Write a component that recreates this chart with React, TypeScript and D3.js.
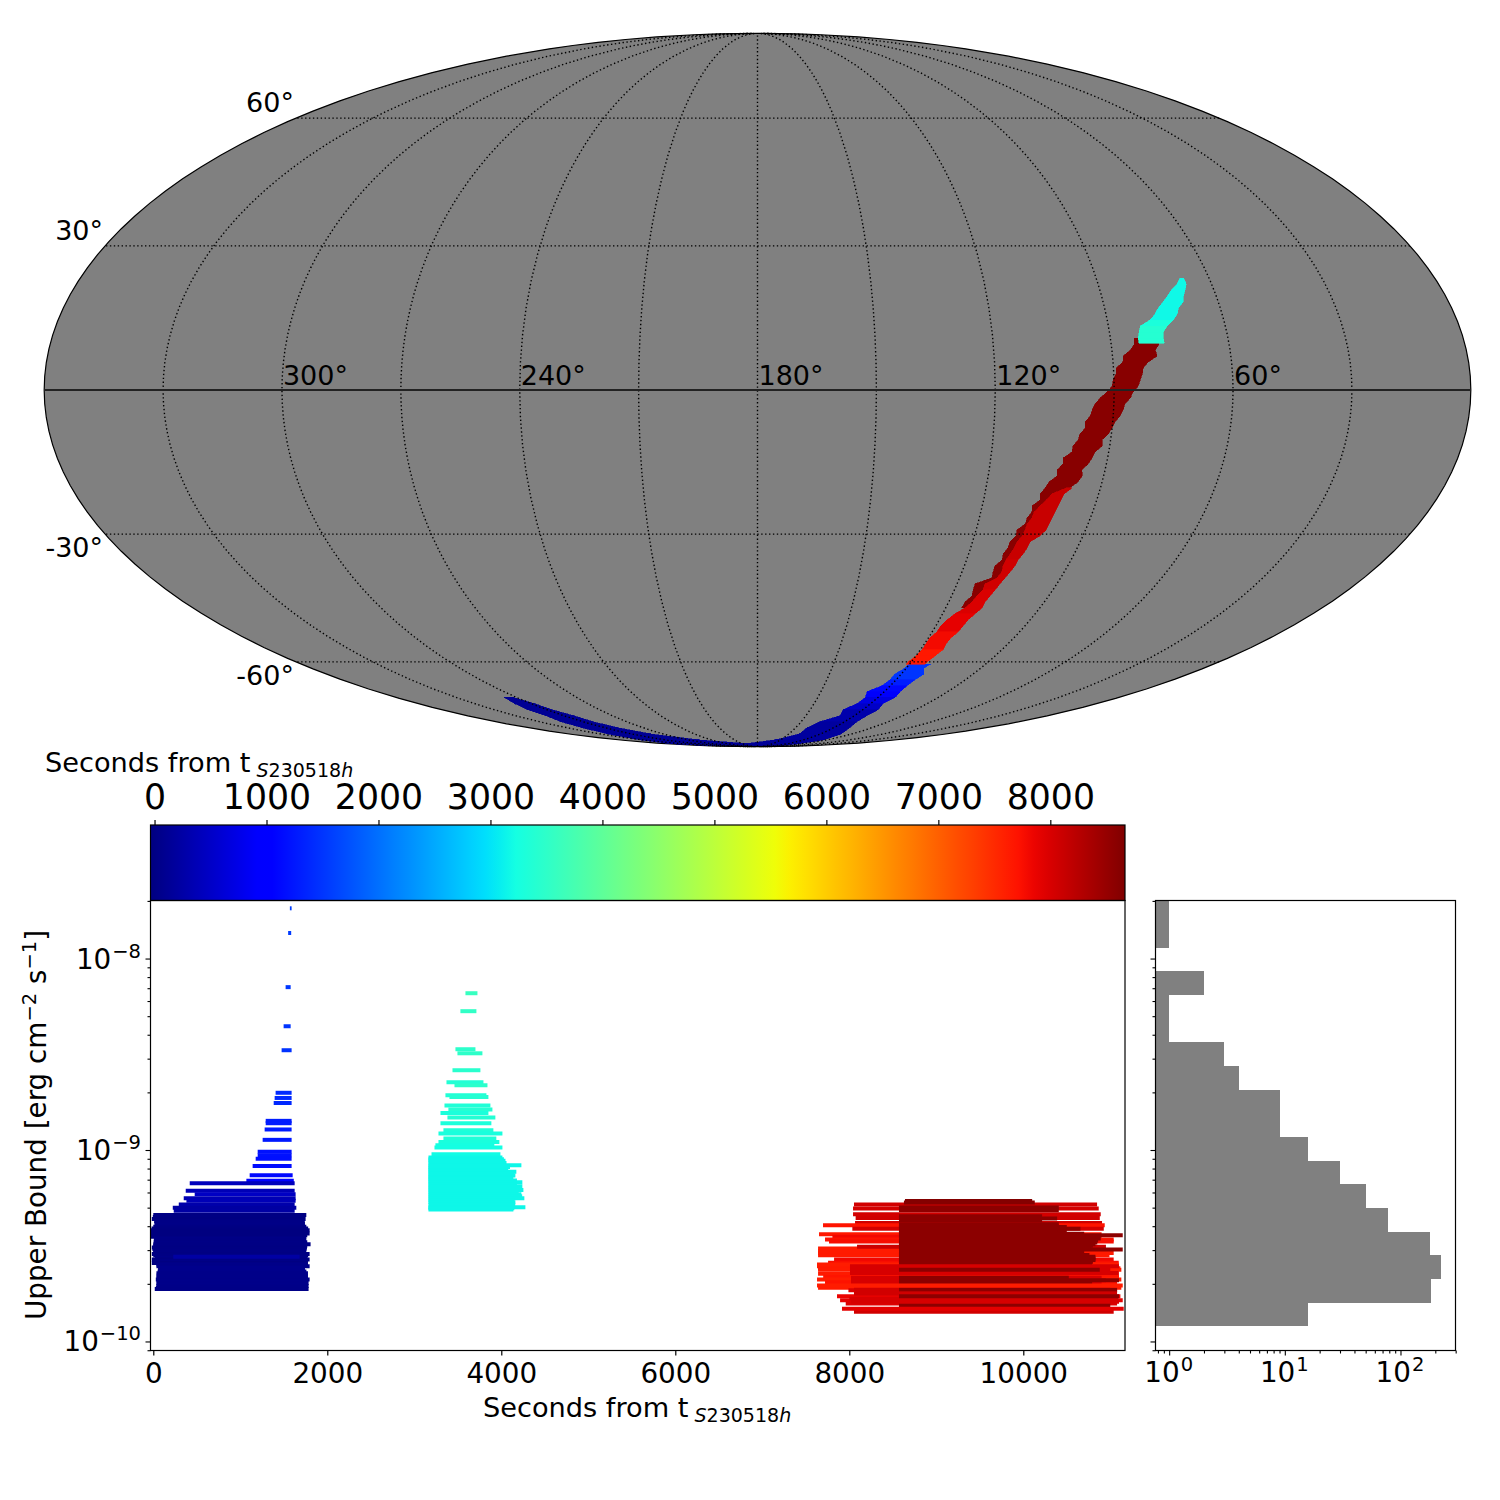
import * as React from "react";
import * as d3 from "d3";

// sky map rows: [lat, lon at left edge, lon at right edge, seconds]. A row joins down to the next row's lat.
type SkyRow = [number, number, number, number];
// bars: [upper bound, start seconds, end seconds]. Colour comes from the start time.
type Bar = [number, number, number];

const skyDarkRed: SkyRow[] = [
  [10.65, 83.9, 78.0, 8600], [9.42, 84.1, 77.8, 8600], [8.18, 85.3, 79.0, 8600], [6.95, 87.3, 78.7, 8600],
  [5.72, 87.5, 81.1, 8600], [4.5, 89.3, 82.5, 8600], [3.27, 89.4, 82.8, 8600], [2.04, 90.2, 83.4, 8600],
  [0.82, 90.5, 83.9, 8600], [-0.41, 91.8, 85.2, 8600], [-1.63, 93.5, 85.9, 8600], [-2.86, 94.7, 87.2, 8600],
  [-4.08, 95.4, 87.6, 8600], [-5.32, 95.8, 88.3, 8600], [-6.55, 97.0, 89.4, 8600], [-7.77, 96.8, 90.0, 8600],
  [-9.0, 98.0, 90.8, 8600], [-10.24, 98.3, 92.2, 8600], [-11.47, 99.4, 91.9, 8600], [-12.71, 99.4, 93.5, 8600],
  [-13.95, 101.4, 94.0, 8600], [-15.19, 101.2, 94.7, 8600], [-16.43, 102.4, 96.0, 8600], [-17.68, 102.1, 95.6, 8600],
  [-18.93, 103.8, 96.3, 8600], [-20.18, 104.5, 98.0, 8600], [-21.44, 105.4, 101.2, 8600], [-22.7, 105.0, 103.2, 8600],
  [-23.97, 106.7, 104.6, 8600], [-25.25, 106.3, 105.7, 8600], [-26.52, 107.1, 105.7, 8600], [-27.81, 107.1, 106.6, 8600],
  [-29.1, 108.8, 106.6, 8600], [-30.39, 108.5, 106.8, 8600], [-31.69, 109.6, 107.6, 8600], [-32.99, 109.5, 107.8, 8600],
  [-34.3, 110.2, 108.2, 8600], [-35.63, 109.8, 108.1, 8600], [-36.96, 111.1, 108.8, 8600], [-38.3, 110.9, 108.3, 8600],
  [-39.65, 110.4, 108.9, 8600], [-41.01, 114.6, 111.6, 8600], [-42.38, 114.3, 111.3, 8600], [-43.76, 113.7, 112.2, 8600],
  [-45.14, 114.9, 112.7, 8600], [-46.55, 114.9, 112.7, 8600],
];

const skyRed: SkyRow[] = [
  [-20.18, 99.0, 97.4, 8120], [-21.44, 102.3, 99.1, 8120], [-22.7, 103.4, 99.5, 8120], [-23.97, 104.6, 99.8, 8120],
  [-25.25, 105.7, 100.1, 8120], [-26.52, 105.8, 100.4, 8120], [-27.81, 106.6, 100.6, 8120], [-29.1, 106.6, 100.8, 8120],
  [-30.39, 106.8, 101.9, 8120], [-31.69, 107.6, 104.0, 8120], [-32.99, 107.8, 104.1, 8120], [-34.3, 108.2, 104.5, 8120],
  [-35.63, 108.7, 105.2, 8060], [-36.96, 108.8, 105.3, 8060], [-38.3, 108.3, 105.9, 8060], [-39.65, 108.9, 106.5, 8060],
  [-41.01, 111.6, 107.1, 8060], [-42.38, 111.3, 107.6, 7990], [-43.76, 112.2, 108.1, 7990], [-45.14, 112.7, 108.6, 7990],
  [-46.55, 113.8, 108.4, 7990], [-47.98, 116.0, 109.5, 7900], [-49.42, 117.4, 110.5, 7900], [-50.87, 118.3, 110.8, 7900],
  [-52.33, 118.4, 111.1, 7790], [-53.8, 119.5, 112.1, 7790], [-55.35, 119.5, 112.3, 7790], [-56.86, 119.4, 111.7, 7660],
  [-58.43, 120.0, 112.8, 7660], [-60.0, 121.3, 113.8, 7660], [-60.6, 121.3, 113.8, 7660],
];

const skyCyan: SkyRow[] = [
  [23.13, 67.8, 66.8, 3180], [21.86, 69.1, 66.7, 3180], [20.6, 71.2, 67.6, 3180], [19.35, 72.8, 68.6, 3180],
  [18.1, 74.4, 69.2, 3180], [16.85, 76.1, 70.9, 3180], [15.6, 77.3, 71.6, 3180], [14.37, 79.0, 73.0, 3300],
  [13.13, 81.8, 74.9, 3400], [11.89, 82.4, 76.2, 3400], [10.65, 82.9, 76.5, 3400], [9.6, 82.9, 76.5, 3400],
];

const skyBlueArm: SkyRow[] = [
  [-60.6, 120.4, 111.7, 1500], [-61.66, 120.6, 113.0, 1500], [-63.3, 122.7, 110.6, 1500], [-64.87, 122.6, 111.8, 1300],
  [-66.56, 123.8, 112.5, 1100], [-68.27, 128.2, 112.5, 900], [-69.98, 126.3, 111.4, 700], [-71.92, 127.2, 113.4, 500],
  [-73.85, 131.3, 111.4, 300], [-75.85, 128.9, 112.2, 300], [-77.96, 137.1, 111.7, 200], [-80.23, 141.2, 107.5, 200],
  [-82.75, 139.9, 100.2, 200], [-85.48, 157.6, 93.5, 150], [-87.6, 204.4, 97.0, 150], [-89.0, 204.4, 97.0, 150],
];

const skyLeftArm: SkyRow[] = [
  [-69.98, 306.0, 301.6, 120], [-71.92, 308.7, 298.1, 120], [-73.85, 310.7, 297.0, 120], [-75.85, 311.0, 293.7, 120],
  [-77.96, 315.0, 293.0, 120], [-80.23, 317.6, 289.4, 120], [-82.75, 323.0, 281.5, 120], [-85.48, 333.0, 256.2, 120],
  [-87.6, 350.8, 194.6, 120], [-89.0, 350.8, 194.6, 120],
];

const blueBars: Bar[] = [
  [1.83e-8, 1570, 1590], [1.36e-8, 1550, 1585], [7.09e-9, 1521, 1579], [4.43e-9, 1498, 1579], [3.32e-9, 1475, 1590],
  [1.99e-9, 1406, 1590], [1.87e-9, 1395, 1590], [1.76e-9, 1384, 1590], [1.42e-9, 1292, 1590], [1.38e-9, 1292, 1590],
  [1.28e-9, 1280, 1590], [1.13e-9, 1257, 1590], [9.8e-10, 1200, 1590], [9.4e-10, 1200, 1590], [9.0e-10, 1177, 1590],
  [8.24e-10, 1142, 1590], [7.39e-10, 1108, 1602], [6.9e-10, 1070, 1615], [6.71e-10, 419, 1625], [6.12e-10, 373, 1625],
  [5.88e-10, 476, 1636], [5.6e-10, 350, 1636], [5.43e-10, 381, 1636], [5.19e-10, 293, 1625], [4.99e-10, 224, 1644],
  [4.81e-10, 235, 1625], [4.57e-10, 0, 1759], [4.47e-10, -5, 1740], [4.36e-10, -17, 1751], [4.25e-10, 10, 1740],
  [4.13e-10, 13, 1743], [4.05e-10, 20, 1740], [3.97e-10, 0, 1759], [3.89e-10, -20, 1780], [3.81e-10, -32, 1797],
  [3.73e-10, -32, 1780], [3.66e-10, -32, 1797], [3.59e-10, -32, 1770], [3.52e-10, -30, 1759], [3.45e-10, 10, 1755],
  [3.38e-10, 6, 1759], [3.3e-10, 5, 1770], [3.22e-10, 0, 1808], [3.16e-10, 0, 1770], [3.1e-10, -17, 1766],
  [3.04e-10, -10, 1760], [2.98e-10, 0, 1759], [2.92e-10, 0, 1755], [2.86e-10, -17, 1797], [2.81e-10, 0, 1780],
  [2.73e-10, 20, 1770], [2.68e-10, -17, 1797], [2.62e-10, 20, 1770], [2.57e-10, -17, 1778], [2.52e-10, 36, 1770],
  [2.47e-10, 36, 1797], [2.43e-10, 60, 1740], [2.38e-10, 55, 1743], [2.32e-10, 50, 1760], [2.27e-10, 36, 1778],
  [2.22e-10, 40, 1770], [2.18e-10, 36, 1778], [2.14e-10, 40, 1770], [2.11e-10, 29, 1797], [2.06e-10, 40, 1770],
  [2.02e-10, 36, 1785], [1.98e-10, 40, 1770], [1.95e-10, 36, 1785], [1.91e-10, 30, 1770], [1.88e-10, 17, 1785],
  [2.77e-10, 230, 1682],
];

const cyanBars: Bar[] = [
  [6.59e-9, 3588, 3726], [5.31e-9, 3530, 3714], [3.36e-9, 3473, 3703], [3.2e-9, 3496, 3783], [2.61e-9, 3439, 3760],
  [2.26e-9, 3370, 3795], [2.18e-9, 3462, 3841], [1.93e-9, 3358, 3829], [1.89e-9, 3404, 3852], [1.71e-9, 3347, 3875],
  [1.63e-9, 3392, 3898], [1.56e-9, 3301, 3852], [1.48e-9, 3381, 3932], [1.38e-9, 3301, 3886], [1.27e-9, 3335, 3909],
  [1.22e-9, 3278, 4013], [1.15e-9, 3335, 3943], [1.1e-9, 3278, 3978], [1.06e-9, 3243, 3920], [1.03e-9, 3232, 4013],
  [9.51e-10, 3198, 3990], [9.14e-10, 3163, 4013], [8.95e-10, 3163, 4030], [8.78e-10, 3163, 4048], [8.55e-10, 3163, 4060],
  [8.33e-10, 3163, 4231], [8.16e-10, 3163, 4100], [8.0e-10, 3163, 4070], [7.84e-10, 3163, 4080], [7.69e-10, 3163, 4173],
  [7.52e-10, 3163, 4150], [7.36e-10, 3163, 4162], [7.21e-10, 3163, 4120], [7.07e-10, 3163, 4139], [6.93e-10, 3163, 4180],
  [6.79e-10, 3163, 4242], [6.63e-10, 3163, 4180], [6.47e-10, 3163, 4242], [6.33e-10, 3163, 4220], [6.19e-10, 3163, 4254],
  [6.03e-10, 3163, 4200], [5.88e-10, 3163, 4231], [5.74e-10, 3163, 4240], [5.6e-10, 3163, 4265], [5.47e-10, 3163, 4150],
  [5.34e-10, 3163, 4162], [5.18e-10, 3163, 4160], [5.03e-10, 3163, 4277], [4.96e-10, 3163, 4150], [4.89e-10, 3163, 4139],
];

const redBars: Bar[] = [
  [5.19e-10, 8054, 10848], [4.95e-10, 8043, 10867], [4.62e-10, 8043, 10890], [4.42e-10, 8073, 10879], [4.16e-10, 8066, 10905],
  [4.05e-10, 7698, 10936], [3.88e-10, 8035, 10925], [3.63e-10, 7652, 10900], [3.52e-10, 7806, 10900], [3.41e-10, 7721, 11039],
  [3.33e-10, 7767, 11039], [3.06e-10, 7641, 10944], [2.97e-10, 7641, 11000], [2.9e-10, 7641, 11039], [2.82e-10, 7641, 10990],
  [2.68e-10, 7825, 11039], [2.58e-10, 7756, 11097], [2.52e-10, 7629, 11097], [2.47e-10, 7629, 11097], [2.41e-10, 7641, 11116],
  [2.37e-10, 7641, 11127], [2.26e-10, 7641, 11097], [2.17e-10, 7700, 11100], [2.11e-10, 7629, 11127], [2.04e-10, 7721, 11078],
  [1.91e-10, 7641, 11127], [1.85e-10, 7990, 11078], [1.72e-10, 7859, 11116], [1.64e-10, 7894, 11143], [1.58e-10, 7959, 11078],
  [1.43e-10, 8054, 11039],
  [3.12e-10, 8089, 10950], [2.45e-10, 8008, 10990], [2.39e-10, 8008, 11000], [2.15e-10, 8020, 10900], [2.09e-10, 8020, 10950],
  [2.03e-10, 8020, 10900], [1.87e-10, 8054, 11000], [1.82e-10, 8054, 11000],
];

const darkBars: Bar[] = [
  [5.42e-10, 8640, 10102], [5.32e-10, 8628, 10132], [5.01e-10, 8571, 10408], [4.85e-10, 8571, 10408], [4.51e-10, 8571, 10216],
  [4.39e-10, 8571, 10389], [4.3e-10, 8571, 10216], [4.1e-10, 8571, 10408], [4.0e-10, 8571, 10408], [3.96e-10, 8571, 10500],
  [3.88e-10, 8571, 10657], [3.8e-10, 8571, 10500], [3.71e-10, 8571, 10389], [3.65e-10, 8571, 10700], [3.59e-10, 8571, 11143],
  [3.52e-10, 8571, 10800], [3.45e-10, 8571, 10890], [3.37e-10, 8571, 10860], [3.29e-10, 8571, 10850], [3.22e-10, 8571, 10830],
  [3.16e-10, 8571, 10800], [3.09e-10, 8571, 10780], [3.02e-10, 8571, 11143], [2.95e-10, 8571, 10700], [2.89e-10, 8571, 10676],
  [2.83e-10, 8571, 10760], [2.77e-10, 8571, 10829], [2.71e-10, 8571, 10830], [2.66e-10, 8571, 10830], [2.61e-10, 8571, 10800],
  [2.57e-10, 8571, 10791], [2.15e-10, 8571, 10523], [2.09e-10, 8571, 11100], [2.04e-10, 8571, 10791], [1.86e-10, 8571, 11078],
  [1.55e-10, 8571, 11000],
];

// thin rows that run over the dark block
const redTopBars: Bar[] = [
  [2.47e-10, 8008, 11100], [2.28e-10, 8008, 11097], [1.96e-10, 7629, 11143], [1.78e-10, 8054, 11078], [1.67e-10, 8000, 11090],
  [1.61e-10, 8020, 11100], [1.48e-10, 7916, 11154],
];
const darkTopBars: Bar[] = [[2.37e-10, 8571, 10879], [1.72e-10, 8571, 11100]];

const histCounts: number[] = [16, 185, 225, 180, 78, 50, 30, 16, 9, 9, 4, 3, 1, 1, 2, 0, 1, 1];
const histLogLow: number = -9.92;
const histLogStep: number = 0.1235;

const cbarTicks: number[] = [0, 1000, 2000, 3000, 4000, 5000, 6000, 7000, 8000];
const timeTicks: number[] = [0, 2000, 4000, 6000, 8000, 10000];
const meridianLons: number[] = [30, 60, 90, 120, 150, 180, 210, 240, 270, 300, 330];
const parallelLats: number[] = [-60, -30, 30, 60];
const lonLabels: number[] = [300, 240, 180, 120, 60];
const latLabels: number[] = [60, 30, -30, -60];
const ubMajor: number[] = [1e-8, 1e-9, 1e-10];
const ubMinor: number[] = [
  2e-8, 9e-9, 8e-9, 7e-9, 6e-9, 5e-9, 4e-9, 3e-9, 2e-9,
  9e-10, 8e-10, 7e-10, 6e-10, 5e-10, 4e-10, 3e-10, 2e-10, 9e-11,
];
const countMajor: number[] = [1, 10, 100];
const countMinor: number[] = [0.8, 0.9, 2, 3, 4, 5, 6, 7, 8, 9, 20, 30, 40, 50, 60, 70, 80, 90, 200, 300];

const FONT = "DejaVu Sans";
const GRAY = "#808080";

// matplotlib jet, piece by piece
const jetR = d3.scaleLinear<number>().domain([0, 0.35, 0.66, 0.89, 1]).range([0, 0, 1, 1, 0.5]);
const jetG = d3.scaleLinear<number>().domain([0, 0.125, 0.375, 0.64, 0.91, 1]).range([0, 0, 1, 1, 0, 0]);
const jetB = d3.scaleLinear<number>().domain([0, 0.11, 0.34, 0.65, 1]).range([0.5, 1, 1, 0, 0]);
const jetAt = (f: number): string => d3.rgb(jetR(f) * 255, jetG(f) * 255, jetB(f) * 255).formatHex();
const norm = d3.scaleLinear().domain([-36, 8667]).range([0, 1]).clamp(true);
const timeColor = (t: number): string => jetAt(norm(t));

function mollweideRaw(lambda: number, phi: number): [number, number] {
  let p = phi;
  const k = Math.PI * Math.sin(phi);
  for (let i = 0; i < 30; i++) {
    const delta = (p + Math.sin(p) - k) / (1 + Math.cos(p));
    p -= delta;
    if (Math.abs(delta) < 1e-7) break;
  }
  const theta = p / 2;
  return [(2 * Math.SQRT2 / Math.PI) * lambda * Math.cos(theta), Math.SQRT2 * Math.sin(theta)];
}

export default function App(): JSX.Element {
  const ref = React.useRef<SVGSVGElement>(null);

  React.useEffect(() => {
    const svg = d3.select(ref.current as SVGSVGElement);
    svg.selectAll("*").remove();
    svg.style("font-family", FONT);
    drawMap(svg);
    drawColorbar(svg);
    drawBars(svg);
    drawHist(svg);
  }, []);

  return <svg ref={ref} width={1500} height={1500}
              style={{position: "absolute", left: 0, top: 0, display: "block", background: "#fff"}}/>;
}

function drawMap(svg: any): void {
  const projection = d3.geoProjection(mollweideRaw as any)
      .rotate([-180, 0])
      .reflectX(true)
      .scale(252.2)
      .translate([757.5, 390])
      .precision(0.2);
  const path = d3.geoPath(projection);

  svg.append("path")
      .datum({type: "Sphere"})
      .attr("d", path)
      .attr("fill", GRAY)
      .attr("stroke", "#000")
      .attr("stroke-width", 1.2);

  const paintRows = (rows: SkyRow[]): void => {
    rows.slice(0, -1).forEach((row: SkyRow, i: number) => {
      const next = rows[i + 1];
      const corners = [[row[1], row[0]], [row[2], row[0]], [next[2], next[0]], [next[1], next[0]]]
          .map((c: number[]) => projection(c as [number, number]) as [number, number]);
      svg.append("polygon")
          .attr("points", corners.map((c: [number, number]) => c.join(",")).join(" "))
          .attr("fill", timeColor(row[3]))
          .attr("stroke", timeColor(row[3]))
          .attr("stroke-width", 0.6)
          .attr("shape-rendering", "crispEdges");
    });
  };
  paintRows(skyLeftArm);
  paintRows(skyBlueArm);
  paintRows(skyDarkRed);
  paintRows(skyRed);
  paintRows(skyCyan);

  const lonSweep: number[] = d3.range(0.01, 360, 3).concat([359.99]);
  const dotted = (d: any): void => {
    svg.append("path")
        .datum(d)
        .attr("d", path)
        .attr("fill", "none")
        .attr("stroke", "#000")
        .attr("stroke-width", 1.4)
        .attr("stroke-dasharray", "1.4 2.5");
  };
  meridianLons.forEach((lon: number) => {
    dotted({type: "LineString", coordinates: [[lon, -89.9], [lon, 0], [lon, 89.9]]});
  });
  parallelLats.forEach((lat: number) => {
    dotted({type: "LineString", coordinates: lonSweep.map((lon: number) => [lon, lat])});
  });
  svg.append("path")
      .datum({type: "LineString", coordinates: lonSweep.map((lon: number) => [lon, 0])})
      .attr("d", path)
      .attr("fill", "none")
      .attr("stroke", "#222")
      .attr("stroke-width", 2);

  lonLabels.forEach((lon: number) => {
    const p = projection([lon, 0]) as [number, number];
    svg.append("text")
        .attr("x", p[0] + 1)
        .attr("y", p[1] - 5)
        .attr("font-size", 27)
        .text(`${lon}°`);
  });
  latLabels.forEach((lat: number) => {
    const p = projection([359.99, lat]) as [number, number];
    svg.append("text")
        .attr("x", p[0] - 2)
        .attr("y", lat > 0 ? p[1] - 6 : p[1] + 23)
        .attr("text-anchor", "end")
        .attr("font-size", 27)
        .text(`${lat}°`);
  });
}

function secondsLabel(text: any, size: number): void {
  text.attr("font-size", size);
  text.append("tspan").text("Seconds from t");
  text.append("tspan").attr("dx", 6).attr("dy", 5).attr("font-size", size * 0.7).attr("font-style", "italic").text("S");
  text.append("tspan").attr("font-size", size * 0.7).text("230518");
  text.append("tspan").attr("font-size", size * 0.7).attr("font-style", "italic").text("h");
}

function drawColorbar(svg: any): void {
  const x = d3.scaleLinear().domain([-36, 8667]).range([150.5, 1125]);
  const top = 825;
  const bottom = 900.5;

  const grad = svg.append("defs").append("linearGradient").attr("id", "jetbar");
  d3.range(0, 65).forEach((i: number) => {
    grad.append("stop").attr("offset", `${(i / 64) * 100}%`).attr("stop-color", jetAt(i / 64));
  });
  svg.append("rect")
      .attr("x", 150.5)
      .attr("y", top)
      .attr("width", 974.5)
      .attr("height", bottom - top)
      .attr("fill", "url(#jetbar)")
      .attr("stroke", "#000")
      .attr("stroke-width", 1.2);

  const axis = svg.append("g")
      .attr("transform", `translate(0, ${top})`)
      .call(d3.axisTop(x).tickValues(cbarTicks).tickSize(5).tickSizeOuter(0).tickFormat(d3.format("d") as any));
  axis.select(".domain").remove();
  axis.selectAll("line").attr("stroke-width", 1.2);
  axis.selectAll("text")
      .attr("y", -16.5)
      .attr("dy", 0)
      .attr("font-family", FONT)
      .attr("font-size", 34.7)
      .attr("fill", "#000");

  secondsLabel(svg.append("text").attr("x", 45).attr("y", 772), 27.2);
}

function logTickLabel(sel: any, x: number, y: number, anchor: string, exp: string): void {
  const t = sel.append("text")
      .attr("x", x)
      .attr("y", y)
      .attr("text-anchor", anchor)
      .attr("font-size", 27.8);
  t.append("tspan").text("10");
  t.append("tspan").attr("dx", 1).attr("dy", -11).attr("font-size", 19.5).text(exp);
}

function drawBars(svg: any): void {
  const x = d3.scaleLinear().domain([-32, 11169]).range([150.5, 1125]);
  const y = d3.scaleLog().domain([8.97e-11, 2.01e-8]).range([1350.5, 900.5]);

  const paintBars = (bars: Bar[]): void => {
    svg.append("g")
        .selectAll("line")
        .data(bars)
        .join("line")
        .attr("x1", (d: Bar) => x(d[1]))
        .attr("x2", (d: Bar) => x(d[2]))
        .attr("y1", (d: Bar) => y(d[0]))
        .attr("y2", (d: Bar) => y(d[0]))
        .attr("stroke", (d: Bar) => timeColor(d[1]))
        .attr("stroke-width", 4);
  };
  paintBars(blueBars);
  paintBars(cyanBars);
  paintBars(redBars);
  paintBars(darkBars);
  paintBars(redTopBars);
  paintBars(darkTopBars);

  svg.append("rect")
      .attr("x", 150.5)
      .attr("y", 900.5)
      .attr("width", 974.5)
      .attr("height", 450)
      .attr("fill", "none")
      .attr("stroke", "#000")
      .attr("stroke-width", 1.2);

  const xAxis = svg.append("g")
      .attr("transform", "translate(0, 1350.5)")
      .call(d3.axisBottom(x).tickValues(timeTicks).tickSize(5).tickSizeOuter(0).tickFormat(d3.format("d") as any));
  xAxis.select(".domain").remove();
  xAxis.selectAll("line").attr("stroke-width", 1.2);
  xAxis.selectAll("text")
      .attr("y", 32)
      .attr("dy", 0)
      .attr("font-family", FONT)
      .attr("font-size", 27.8)
      .attr("fill", "#000");

  drawUbTicks(svg, y, 150.5);
  ubMajor.forEach((v: number) => {
    logTickLabel(svg, 141, y(v) + 10, "end", `−${Math.round(-Math.log10(v))}`);
  });

  secondsLabel(svg.append("text").attr("x", 483).attr("y", 1417), 27.2);

  const yl = svg.append("text")
      .attr("transform", "translate(46, 1125) rotate(-90)")
      .attr("text-anchor", "middle")
      .attr("font-size", 27.8);
  yl.append("tspan").text("Upper Bound [erg cm");
  yl.append("tspan").attr("dy", -10).attr("font-size", 19.5).text("−2");
  yl.append("tspan").attr("dy", 10).text(" s");
  yl.append("tspan").attr("dy", -10).attr("font-size", 19.5).text("−1");
  yl.append("tspan").attr("dy", 10).text("]");
}

function drawUbTicks(svg: any, y: any, left: number): void {
  const g = svg.append("g").attr("transform", `translate(${left}, 0)`);
  const major = g.append("g").call(d3.axisLeft(y).tickValues(ubMajor).tickSize(5).tickSizeOuter(0).tickFormat(() => ""));
  const minor = g.append("g").call(d3.axisLeft(y).tickValues(ubMinor).tickSize(3).tickSizeOuter(0).tickFormat(() => ""));
  major.select(".domain").remove();
  minor.select(".domain").remove();
  g.selectAll("line").attr("stroke-width", 1.1);
}

function drawHist(svg: any): void {
  const x = d3.scaleLog().domain([0.762, 299]).range([1155.5, 1455.5]);
  const y = d3.scaleLog().domain([8.97e-11, 2.01e-8]).range([1350.5, 900.5]);

  histCounts.forEach((count: number, i: number) => {
    if (count === 0) return;
    const low = Math.pow(10, histLogLow + i * histLogStep);
    const high = Math.min(Math.pow(10, histLogLow + (i + 1) * histLogStep), 2.01e-8);
    svg.append("rect")
        .attr("x", x(0.762))
        .attr("y", y(high))
        .attr("width", x(count) - x(0.762))
        .attr("height", y(low) - y(high))
        .attr("fill", GRAY)
        .attr("shape-rendering", "crispEdges");
  });

  svg.append("rect")
      .attr("x", 1155.5)
      .attr("y", 900.5)
      .attr("width", 300)
      .attr("height", 450)
      .attr("fill", "none")
      .attr("stroke", "#000")
      .attr("stroke-width", 1.2);

  const major = svg.append("g")
      .attr("transform", "translate(0, 1350.5)")
      .call(d3.axisBottom(x).tickValues(countMajor).tickSize(5).tickSizeOuter(0).tickFormat(() => ""));
  const minor = svg.append("g")
      .attr("transform", "translate(0, 1350.5)")
      .call(d3.axisBottom(x).tickValues(countMinor).tickSize(3).tickSizeOuter(0).tickFormat(() => ""));
  major.select(".domain").remove();
  minor.select(".domain").remove();
  major.selectAll("line").attr("stroke-width", 1.1);
  minor.selectAll("line").attr("stroke-width", 1.1);

  drawUbTicks(svg, y, 1155.5);

  countMajor.forEach((v: number) => {
    logTickLabel(svg, x(v) - 0.5, 1382, "middle", `${Math.round(Math.log10(v))}`);
  });
}
